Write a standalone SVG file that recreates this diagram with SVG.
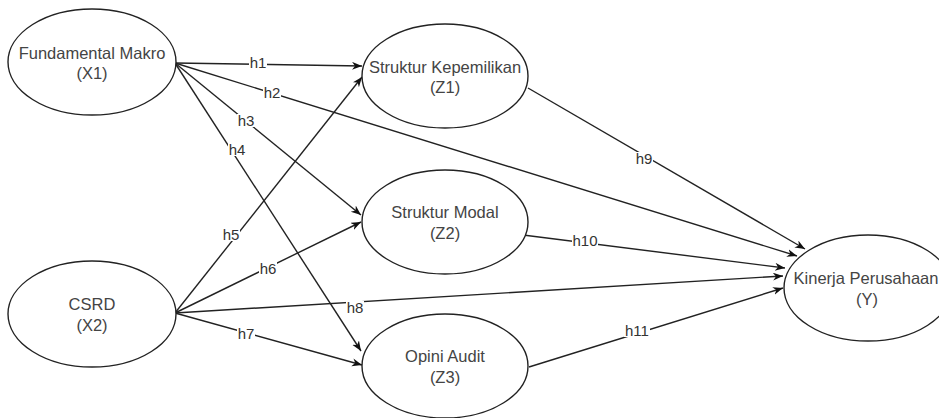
<svg xmlns="http://www.w3.org/2000/svg" width="939" height="418" viewBox="0 0 939 418">
  <defs>
    <marker id="arrow" markerUnits="userSpaceOnUse" markerWidth="12" markerHeight="10" refX="10" refY="4" orient="auto">
      <path d="M0,0 L10,4 L0,8 L3,4 Z" fill="#111"/>
    </marker>
    <style>
      .node ellipse { fill: #ffffff; stroke: #222; stroke-width: 1.4; }
      .node text { font-family: "Liberation Sans", Arial, sans-serif; font-size: 16.5px; fill: #444; text-anchor: middle; dominant-baseline: central; }
      .edge { fill: none; stroke: #222; stroke-width: 1.4; marker-end: url(#arrow); }
      .lbl rect { fill: #ffffff; }
      .lbl text { font-family: "Liberation Sans", Arial, sans-serif; font-size: 15px; fill: #333; text-anchor: middle; dominant-baseline: central; }
    </style>
  </defs>
  <rect width="939" height="418" fill="#ffffff"/>

  <g id="connectors">
    <path class="edge" d="M175,63 L362,66"/>
    <path class="edge" d="M175,63 L797,256"/>
    <path class="edge" d="M175,63 L361,215"/>
    <path class="edge" d="M175,63 L361,351"/>
    <path class="edge" d="M175,313 L362,77"/>
    <path class="edge" d="M175,313 L361,222"/>
    <path class="edge" d="M175,313 L362,365"/>
    <path class="edge" d="M175,313 L783,276"/>
    <path class="edge" d="M528,88 L805,249"/>
    <path class="edge" d="M523,235 L785,268"/>
    <path class="edge" d="M529,367 L783,288"/>
    <g class="lbl">
      <rect x="249" y="56" width="18" height="13"/><text x="258" y="62">h1</text>
      <rect x="263" y="86" width="18" height="13"/><text x="272" y="92">h2</text>
      <rect x="237" y="114" width="18" height="13"/><text x="246" y="120">h3</text>
      <rect x="228" y="143" width="18" height="13"/><text x="237" y="149">h4</text>
      <rect x="222" y="228" width="18" height="13"/><text x="231" y="234">h5</text>
      <rect x="259" y="262" width="18" height="13"/><text x="268" y="268">h6</text>
      <rect x="237" y="327" width="18" height="13"/><text x="246" y="333">h7</text>
      <rect x="346" y="301" width="18" height="13"/><text x="355" y="307">h8</text>
      <rect x="635" y="152" width="18" height="13"/><text x="644" y="158">h9</text>
      <rect x="572" y="234" width="26" height="13"/><text x="585" y="240">h10</text>
      <rect x="624" y="324" width="26" height="13"/><text x="637" y="330">h11</text>
    </g>
  </g>

  <g id="X1" class="node">
    <ellipse cx="92" cy="62" rx="84" ry="53"/>
    <text x="92" y="53">Fundamental Makro</text>
    <text x="92" y="73">(X1)</text>
  </g>
  <g id="X2" class="node">
    <ellipse cx="92" cy="314" rx="84" ry="53"/>
    <text x="92" y="304">CSRD</text>
    <text x="92" y="325">(X2)</text>
  </g>
  <g id="Z1" class="node">
    <ellipse cx="445" cy="76" rx="83" ry="52"/>
    <text x="445" y="67">Struktur Kepemilikan</text>
    <text x="445" y="87">(Z1)</text>
  </g>
  <g id="Z2" class="node">
    <ellipse cx="445" cy="222" rx="83" ry="52"/>
    <text x="445" y="212">Struktur Modal</text>
    <text x="445" y="233">(Z2)</text>
  </g>
  <g id="Z3" class="node">
    <ellipse cx="445" cy="366" rx="83" ry="52"/>
    <text x="445" y="356">Opini Audit</text>
    <text x="445" y="377">(Z3)</text>
  </g>
  <g id="Y" class="node">
    <ellipse cx="868" cy="288" rx="84" ry="53"/>
    <text x="866" y="278">Kinerja Perusahaan</text>
    <text x="867" y="299">(Y)</text>
  </g>
</svg>
